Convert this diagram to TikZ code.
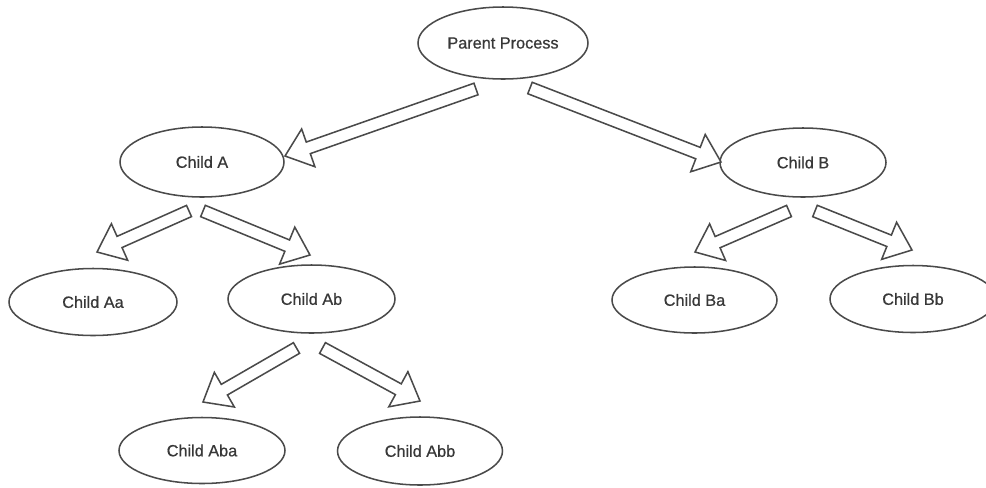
\documentclass[tikz,border=0pt]{standalone}
\usepackage{fontspec}
\setmainfont{Liberation Sans}
\newfontfamily\procfont{Liberation Sans}[BoldFont=Liberation Sans, BoldFeatures={FakeBold=0.7}]
\usetikzlibrary{shapes.geometric,calc}

\definecolor{inkline}{HTML}{4A4A4A}
\definecolor{inktext}{HTML}{383838}

% block arrow dimensions
\newcommand\shafthalf{4.6pt}
\newcommand\headhalf{15pt}
\newcommand\headlen{18.5pt}

% hollow block arrow from coordinate #1 (tail) to coordinate #2 (tip)
\newcommand\blockarrow[2]{%
  \coordinate (ba-base) at ($(#2)!\headlen!(#1)$);
  \draw[barrow]
    ($(#1)!\shafthalf!90:(#2)$) --
    ($(ba-base)!\shafthalf!90:(#2)$) --
    ($(ba-base)!\headhalf!90:(#2)$) --
    (#2) --
    ($(ba-base)!\headhalf!-90:(#2)$) --
    ($(ba-base)!\shafthalf!-90:(#2)$) --
    ($(#1)!\shafthalf!-90:(#2)$) -- cycle;}

\begin{document}
\begin{tikzpicture}[x=0.75pt, y=-0.75pt,
  proc/.style={ellipse, draw=inkline, line width=1.15pt, inner sep=0pt,
    text=inktext, font=\procfont\bfseries\fontsize{12.2pt}{14pt}\selectfont},
  barrow/.style={draw=inkline, line width=1.15pt, line join=miter, fill=white}]

\useasboundingbox (0,0) rectangle (986,487);

% process ellipses
\node[proc, minimum width=127.5pt, minimum height=54pt]   (p)   at (503,43)    {Parent Process};
\node[proc, minimum width=123pt,   minimum height=52.5pt] (a)   at (202,162)   {Child A};
\node[proc, minimum width=124.5pt, minimum height=51.75pt](b)   at (803,162.5) {Child B};
\node[proc, minimum width=126pt,   minimum height=50.25pt](aa)  at (93,302)    {Child Aa};
\node[proc, minimum width=125.25pt,minimum height=51pt]   (ab)  at (311.5,299) {Child Ab};
\node[proc, minimum width=123.75pt,minimum height=49.5pt] (ba)  at (694.5,300) {Child Ba};
\node[proc, minimum width=124.5pt, minimum height=50.25pt](bb)  at (913,299)   {Child Bb};
\node[proc, minimum width=124.5pt, minimum height=49.5pt] (aba) at (202,450.5) {Child Aba};
\node[proc, minimum width=123.75pt,minimum height=51pt]   (abb) at (420,451)   {Child Abb};

% arrow ends
\coordinate (p-a-s)  at (476,89);   \coordinate (p-a-e)  at (285,156);
\coordinate (p-b-s)  at (530,88);   \coordinate (p-b-e)  at (721,162);
\coordinate (a-aa-s) at (189,211);  \coordinate (a-aa-e) at (97,252);
\coordinate (a-ab-s) at (203,211);  \coordinate (a-ab-e) at (310,255);
\coordinate (ab-aba-s) at (296.5,348); \coordinate (ab-aba-e) at (203,402);
\coordinate (ab-abb-s) at (322.5,348); \coordinate (ab-abb-e) at (420,401);
\coordinate (b-ba-s) at (789,211);  \coordinate (b-ba-e) at (695,252);
\coordinate (b-bb-s) at (815,211);  \coordinate (b-bb-e) at (912,250);

% hollow arrows between the processes
\blockarrow{p-a-s}{p-a-e}
\blockarrow{p-b-s}{p-b-e}
\blockarrow{a-aa-s}{a-aa-e}
\blockarrow{a-ab-s}{a-ab-e}
\blockarrow{ab-aba-s}{ab-aba-e}
\blockarrow{ab-abb-s}{ab-abb-e}
\blockarrow{b-ba-s}{b-ba-e}
\blockarrow{b-bb-s}{b-bb-e}
\end{tikzpicture}
\end{document}
